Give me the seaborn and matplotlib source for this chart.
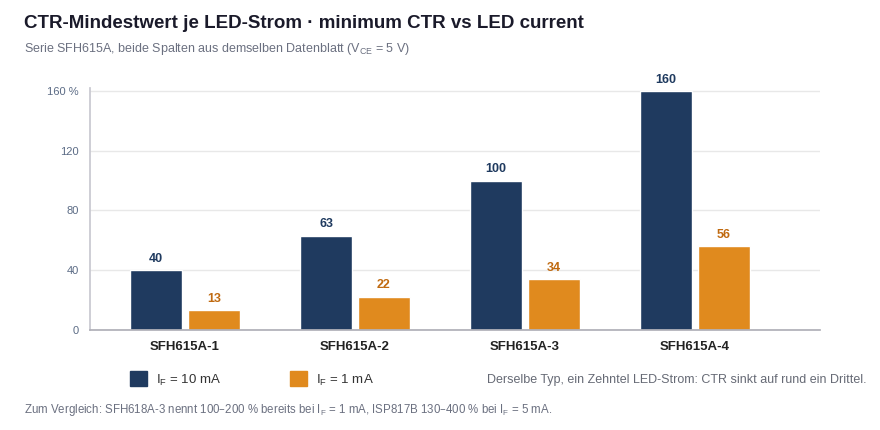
import matplotlib
matplotlib.use("Agg")
import matplotlib.pyplot as plt
import seaborn as sns
import pandas as pd
from matplotlib.patches import Rectangle

categories = ["SFH615A-1", "SFH615A-2", "SFH615A-3", "SFH615A-4"]
ctr_10mA = [40, 63, 100, 160]
ctr_1mA = [13, 22, 34, 56]
series = ["$\\mathregular{I_F}$ = 10 mA", "$\\mathregular{I_F}$ = 1 mA"]
yticks = [0, 40, 80, 120, 160]
ytick_labels = ["0", "40", "80", "120", "160 %"]

NAVY = "#1f3a5f"
ORANGE = "#e08a1e"

df = pd.DataFrame({
    "cat": categories * 2,
    "val": ctr_10mA + ctr_1mA,
    "ser": [series[0]] * 4 + [series[1]] * 4,
})

sns.set_theme(style="white")
plt.rcParams["font.family"] = ["Liberation Sans", "DejaVu Sans"]

fig = plt.figure(figsize=(8.8, 4.3), dpi=100)
ax = fig.add_axes([0.102, 0.233, 0.83, 0.562])
sns.barplot(data=df, x="cat", y="val", hue="ser", palette=[NAVY, ORANGE],
            width=0.68, gap=0.1, ax=ax, legend=False, saturation=1)
ax.set_xlim(-0.559, 3.735)
ax.set_ylim(0, 162)
ax.set_yticks(yticks)
ax.set_yticklabels(ytick_labels, color="#5b6b85", fontsize=8)
ax.tick_params(axis="y", length=0, pad=8)
ax.tick_params(axis="x", length=0, pad=8)
for t in ax.get_xticklabels():
    t.set_fontweight("bold"); t.set_fontsize(9.5); t.set_color("#222222")
ax.set_xlabel(""); ax.set_ylabel("")
ax.grid(axis="y", color="#e8e8e8", linewidth=1)
ax.set_axisbelow(True)
for s in ["top", "right"]:
    ax.spines[s].set_visible(False)
ax.spines["left"].set_color("#c8c8d0")
ax.spines["bottom"].set_color("#b0b0b8")

for cont, col in zip(ax.containers, [NAVY, "#c06a10"]):
    ax.bar_label(cont, padding=4, color=col, fontweight="bold", fontsize=9)

fig.text(0.027, 0.935, "CTR-Mindestwert je LED-Strom · minimum CTR vs LED current",
         fontsize=13.5, fontweight="bold", color="#1a1a2a")
fig.text(0.027, 0.878, "Serie SFH615A, beide Spalten aus demselben Datenblatt ($\\mathregular{V_{CE}}$ = 5 V)",
         fontsize=9, color="#6b7080")

# legend
for x0, col, lab in [(130, NAVY, series[0]), (290, ORANGE, series[1])]:
    fig.patches.append(Rectangle((x0 / 880, 1 - 386 / 430), 17 / 880, 15 / 430,
                                 transform=fig.transFigure, color=col))
    fig.text((x0 + 26) / 880, 1 - 380 / 430, lab, fontsize=9.5, color="#333333", va="center")
fig.text(866 / 880, 1 - 380 / 430,
         "Derselbe Typ, ein Zehntel LED-Strom: CTR sinkt auf rund ein Drittel.",
         fontsize=9, color="#666a75", va="center", ha="right")
fig.text(24 / 880, 1 - 410 / 430,
         "Zum Vergleich: SFH618A-3 nennt 100–200 % bereits bei $\\mathregular{I_F}$ = 1 mA, ISP817B 130–400 % bei $\\mathregular{I_F}$ = 5 mA.",
         fontsize=8.3, color="#6b7080", va="center")

fig.savefig("out.png", dpi=100)
